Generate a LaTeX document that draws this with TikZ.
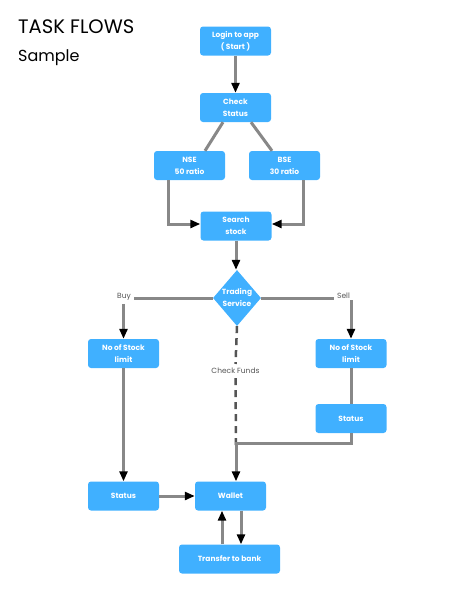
\documentclass[tikz,border=0pt]{standalone}
\usepackage{fontspec}
\setmainfont{Poppins}
\usetikzlibrary{arrows.meta,shapes.geometric}
\definecolor{boxblue}{RGB}{64,176,255}
\definecolor{linegray}{RGB}{136,136,136}
\definecolor{lblgray}{RGB}{85,85,85}
\tikzset{
box/.style={fill=boxblue, rounded corners=3pt, minimum width=71pt, minimum height=29pt, inner sep=0pt, text=white, align=center, font=\bfseries\fontsize{7.5}{12}\selectfont},
lbl/.style={text=lblgray, inner sep=3pt, font=\fontsize{7.5}{9}\selectfont},
flow/.style={draw=linegray, line width=3pt},
arr/.style={-{Triangle[length=10pt,width=8pt,color=black]}},
funds/.style={draw=lblgray, line width=2.5pt, dash pattern=on 7pt off 5pt}
}
\begin{document}
\begin{tikzpicture}[x=1pt,y=-1pt]
\useasboundingbox (0,0) rectangle (474,590);
\node[anchor=base west, inner sep=0pt, font=\fontsize{19.5}{22}\selectfont] (title) at (18,33) {TASK FLOWS};
\node[anchor=base west, inner sep=0pt, font=\fontsize{16}{18}\selectfont] (sample) at (18,61) {Sample};
\foreach \nm/\x/\y/\txt in {login/235.5/41/{Login to app\\( Start )}, check/235.5/107.5/{Check\\Status}, nse/189.5/165.5/{NSE\\50 ratio}, bse/284.5/165.5/{BSE\\30 ratio}, search/236/226/{Search\\stock}, lstock/123.5/353.5/{No of Stock\\limit}, rstock/351/353.5/{No of Stock\\limit}, rstat/351/418.5/{Status}, lstat/123.5/496/{Status}, wallet/230.5/496/{Wallet}} {
\node[box] (\nm) at (\x,\y) {\txt};
}
\node[box, minimum width=101pt] (bank) at (229.5,559) {Transfer to bank};
\node[diamond, fill=boxblue, minimum width=48pt, minimum height=56pt, inner sep=0pt] (trade) at (237,298) {};
\node[box, fill=none] (tradetxt) at (trade) {Trading\\Service};
\node[lbl] (buy) at (124,297) {Buy};
\node[lbl] (sell) at (343.5,296) {Sell};
\node[lbl, inner sep=4pt] (chk) at (235.5,371) {Check Funds};
\coordinate (jn) at (236,443);
\draw[flow,arr] (login) -- (check);
\draw[flow] ([xshift=-12.5pt]check.south) -- ([xshift=15.5pt]nse.north);
\draw[flow] ([xshift=15.5pt]check.south) -- ([xshift=-12.5pt]bse.north);
\draw[flow,arr] ([xshift=-21.5pt]nse.south) |- ([yshift=2pt]search.west);
\draw[flow,arr] ([xshift=18.5pt]bse.south) |- ([yshift=2pt]search.east);
\draw[flow,arr] (search) -- (search |- trade.north);
\draw[flow] (trade.west) -- (trade.west -| buy.east);
\draw[flow] (trade.east) -- (trade.east -| sell.west);
\draw[flow,arr] (buy.south -| lstock.north) -- (lstock.north);
\draw[flow,arr] ([yshift=2pt]sell.south -| rstock.north) -- (rstock.north);
\draw[funds] (trade.south) -- (chk.north);
\draw[funds] (chk.south) -- ([yshift=-6pt]jn);
\draw[flow] (rstock) -- (rstat);
\draw[flow,arr] (rstat.south) |- (jn) -- (jn |- wallet.north);
\draw[flow,arr] (lstock) -- (lstat);
\draw[flow,arr] (lstat) -- (wallet);
\draw[flow,arr] ([xshift=10.5pt]wallet.south) -- ([xshift=11.5pt]bank.north);
\draw[flow,arr] ([xshift=-7.5pt]bank.north) -- ([xshift=-8.5pt]wallet.south);
\end{tikzpicture}
\end{document}
